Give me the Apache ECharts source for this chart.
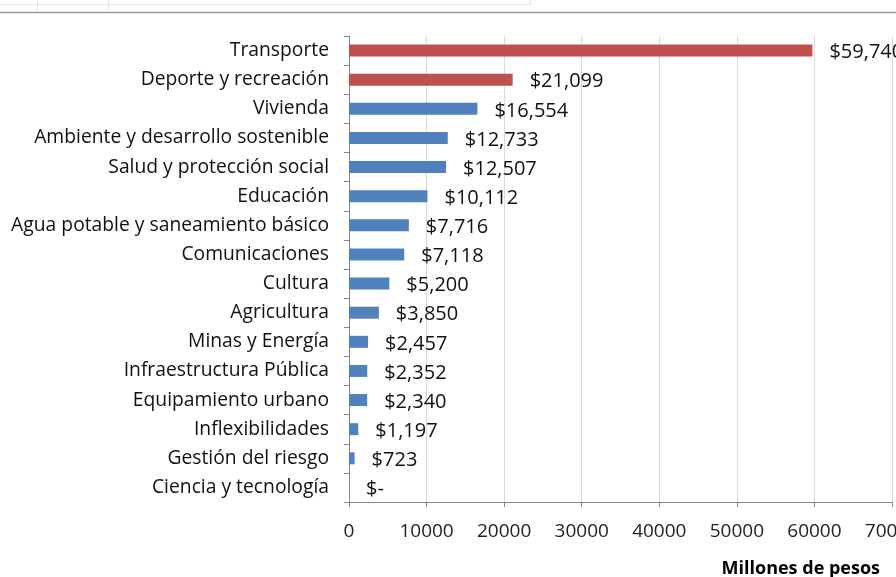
<!DOCTYPE html>
<html>
<head>
<meta charset="utf-8">
<script src="https://cdn.jsdelivr.net/npm/echarts@6/dist/echarts.min.js"></script>
<style>
html, body { margin: 0; padding: 0; background: #fff; }
#chart { width: 896px; height: 577px; }
</style>
</head>
<body>
<div id="chart"></div>
<script>
// categories listed top to bottom
const categories = [
  'Transporte',
  'Deporte y recreación',
  'Vivienda',
  'Ambiente y desarrollo sostenible',
  'Salud y protección social',
  'Educación',
  'Agua potable y saneamiento básico',
  'Comunicaciones',
  'Cultura',
  'Agricultura',
  'Minas y Energía',
  'Infraestructura Pública',
  'Equipamiento urbano',
  'Inflexibilidades',
  'Gestión del riesgo',
  'Ciencia y tecnología'
];
const values = [59740, 21099, 16554, 12733, 12507, 10112, 7716, 7118, 5200, 3850, 2457, 2352, 2340, 1197, 723, 0];
// the first two bars are highlighted in red
const highlighted = ['Transporte', 'Deporte y recreación'];
const xTicks = { min: 0, max: 70000, interval: 10000 };
const axisName = 'Millones de pesos';

const red = '#c0504d';
const blue = '#4f81bd';
const font = '"Open Sans", sans-serif';

function money(v) {
  if (!v) return '$-';
  return '$' + v.toLocaleString('en-US');
}

const chart = echarts.init(document.getElementById('chart'));

let barData = categories.map((c, i) => ({
  value: values[i],
  itemStyle: {
    color: highlighted.indexOf(c) >= 0 ? red : blue
  }
}));

let option = {
  animation: false,
  textStyle: { fontFamily: font },
  grid: {
    left: 349,
    right: 4,
    top: 36,
    bottom: 75,
    containLabel: false,
    outerBoundsMode: 'none'
  },
  title: {
    text: axisName,
    right: 11,
    bottom: -6,
    textStyle: {
      fontFamily: font,
      fontSize: 18,
      fontWeight: 'bold',
      color: '#000'
    }
  },
  xAxis: {
    type: 'value',
    min: xTicks.min,
    max: xTicks.max,
    interval: xTicks.interval,
    axisLine: { show: true, lineStyle: { color: '#868686', width: 1 } },
    axisTick: { show: true, length: 5, lineStyle: { color: '#868686' } },
    splitLine: { show: true, lineStyle: { color: '#d9d9d9', width: 1 } },
    axisLabel: {
      color: '#222',
      fontSize: 19,
      margin: 20,
      showMaxLabel: true,
      hideOverlap: false,
      formatter: v => String(v)
    }
  },
  yAxis: {
    type: 'category',
    inverse: true,
    data: categories,
    axisLine: { show: true, lineStyle: { color: '#868686', width: 1 } },
    axisTick: { show: true, length: 5, alignWithLabel: false, lineStyle: { color: '#868686' } },
    axisLabel: {
      color: '#111',
      fontSize: 19.3,
      margin: 20
    }
  },
  series: [{
    type: 'bar',
    data: barData,
    barWidth: 12,
    label: {
      show: true,
      position: 'right',
      distance: 17,
      offset: [0, 2],
      color: '#111',
      fontSize: 20,
      fontFamily: font,
      formatter: p => money(p.value)
    }
  }],
  graphic: [
    // spreadsheet lines above the chart
    { type: 'line', shape: { x1: 0, y1: 12.5, x2: 896, y2: 12.5 }, style: { stroke: '#9a9a9a', lineWidth: 1.5 } },
    { type: 'line', shape: { x1: 0, y1: 4.5, x2: 530, y2: 4.5 }, style: { stroke: '#e4e4e4', lineWidth: 1 } },
    { type: 'line', shape: { x1: 37.5, y1: 0, x2: 37.5, y2: 12 }, style: { stroke: '#e4e4e4', lineWidth: 1 } },
    { type: 'line', shape: { x1: 108.5, y1: 0, x2: 108.5, y2: 12 }, style: { stroke: '#e4e4e4', lineWidth: 1 } },
    { type: 'line', shape: { x1: 530.5, y1: 0, x2: 530.5, y2: 5 }, style: { stroke: '#e4e4e4', lineWidth: 1 } }
  ]
};

chart.setOption(option);
</script>
</body>
</html>
